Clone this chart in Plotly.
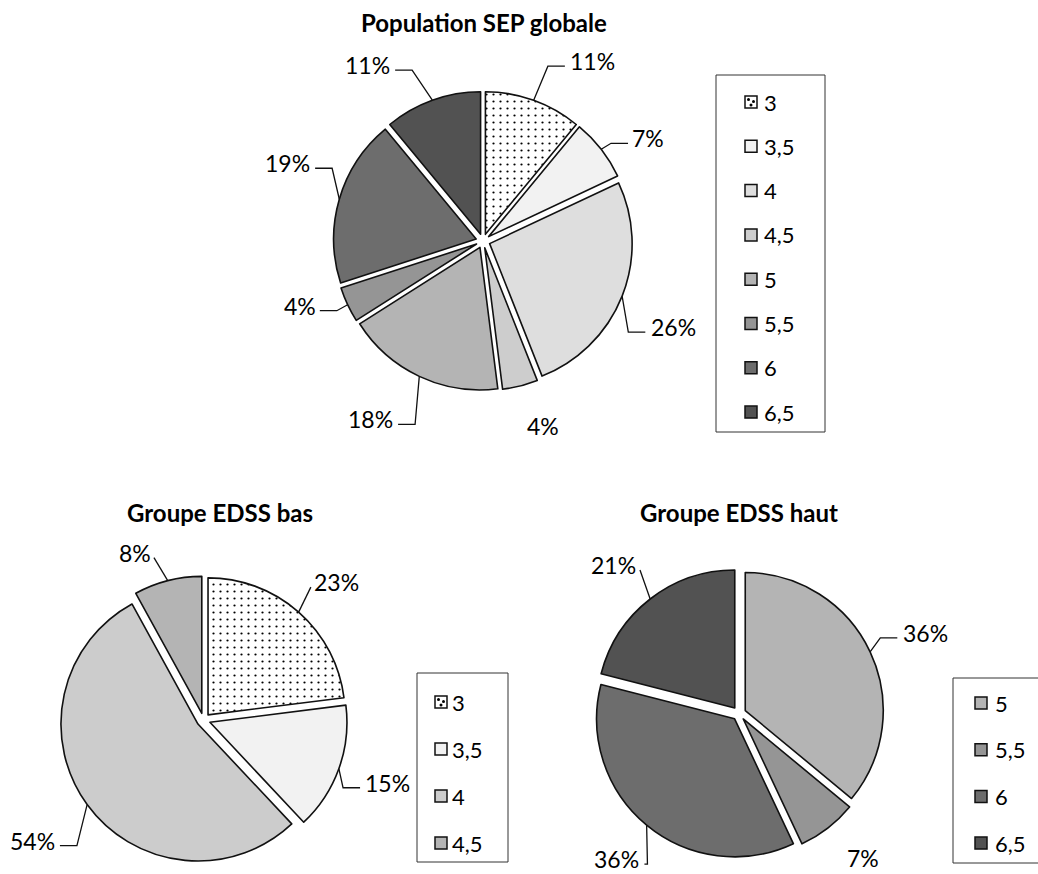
import math
import plotly.graph_objects as go

W, H = 1038, 874

# EDSS levels and their share (%) in each population
global_levels = ["3", "3,5", "4", "4,5", "5", "5,5", "6", "6,5"]
global_pct = [11, 7, 26, 4, 18, 4, 19, 11]

low_levels = ["3", "3,5", "4", "4,5"]
low_pct = [23, 15, 54, 8]

high_levels = ["5", "5,5", "6", "6,5"]
high_pct = [36, 7, 36, 21]

global_colors = ["#ffffff", "#f2f2f2", "#dedede", "#cdcdcd",
                 "#b4b4b4", "#959595", "#6d6d6d", "#525252"]
low_colors = ["#ffffff", "#f2f2f2", "#cccccc", "#b4b4b4"]
high_colors = ["#b4b4b4", "#959595", "#6d6d6d", "#525252"]

PULL = 0.05
FONT = "Lato"
LABEL_SIZE = 23
LEGEND_SIZE = 22
TITLE_SIZE = 24
INK = "#111111"

# Pie panels: pixel centre, radius, title, legend box and label placement.
# Label placement per slice: (dx, dy) of the text from the slice's outer
# mid-arc point, leader kind ('right', 'left', 'straight', None), elbow length.
panels = [
    dict(levels=global_levels, pct=global_pct, colors=global_colors,
         cx=483, cy=241, r=142.5,
         title="Population SEP globale", title_xy=(484, 22),
         legend=dict(box=(716, 75, 825, 432), y0=102, step=44.3, sq=745, tx=762),
         labels=[(59, -39, "right", 17), (47, -11, "right", 17),
                 (51, 31, "right", 17), (23, 40, None, 0),
                 (-49, 43, "left", 17), (-48, 1, "left", 17),
                 (-52, -36, "left", 17), (-65, -35, "left", 17)]),
    dict(levels=low_levels, pct=low_pct, colors=low_colors,
         cx=203.5, cy=720, r=137,
         title="Groupe EDSS bas", title_xy=(220, 512),
         legend=dict(box=(417, 673, 508, 862), y0=702, step=47, sq=435, tx=450),
         labels=[(38, -30, "straight", 0), (49, 14, "right", 17),
                 (-55, 36, "left", 17), (-33, -28, "straight", 0)]),
    dict(levels=high_levels, pct=high_pct, colors=high_colors,
         cx=739, cy=713.5, r=138,
         title="Groupe EDSS haut", title_xy=(739, 512),
         legend=dict(box=(953, 678, 1050, 863), y0=703, step=46.7, sq=975, tx=993),
         labels=[(55, -19, "right", 17), (35, 30, None, 0),
                 (-30, 34, "left", 3), (-37, -34, "straight", 0)]),
]


def pie_domain(cx, cy, r):
    half = r * (1 + PULL)
    return dict(x=[(cx - half) / W, (cx + half) / W],
                y=[(H - cy - half) / H, (H - cy + half) / H])


def mid_arc_point(p, i):
    total = sum(p["pct"])
    start = sum(p["pct"][:i])
    ang = math.radians((start + p["pct"][i] / 2) / total * 360)
    sx, sy = math.sin(ang), -math.cos(ang)
    ox = p["cx"] + PULL * p["r"] * sx
    oy = p["cy"] + PULL * p["r"] * sy
    return ox + p["r"] * sx, oy + p["r"] * sy


fig = go.Figure()
annotations = []
shapes = []
lead_x, lead_y = [], []
dot_x, dot_y = [], []

for p in panels:
    n = len(p["levels"])
    shapes_pattern = ["." if lv == "3" else "" for lv in p["levels"]]
    fig.add_trace(go.Pie(
        labels=p["levels"], values=p["pct"], sort=False,
        direction="clockwise", rotation=0, pull=[PULL] * n,
        textinfo="none", hoverinfo="label+percent", showlegend=False,
        domain=pie_domain(p["cx"], p["cy"], p["r"]),
        marker=dict(colors=p["colors"], line=dict(color=INK, width=1.6),
                    pattern=dict(shape=shapes_pattern, fgcolor="#000000",
                                 size=7, solidity=0.08)),
    ))

    # title
    tx, ty = p["title_xy"]
    annotations.append(dict(x=tx, y=ty, xref="x", yref="y", text=f"<b>{p['title']}</b>",
                            showarrow=False, font=dict(family=FONT, size=TITLE_SIZE, color="#000"),
                            xanchor="center", yanchor="middle"))

    # percentage labels with leader lines
    for i, v in enumerate(p["pct"]):
        ax, ay = mid_arc_point(p, i)
        dx, dy, kind, hlen = p["labels"][i]
        lx, ly = ax + dx, ay + dy
        text = f"{v}%"
        annotations.append(dict(x=lx, y=ly, xref="x", yref="y", text=text, showarrow=False,
                                font=dict(family=FONT, size=LABEL_SIZE, color="#000"),
                                xanchor="center", yanchor="middle"))
        hw = len(text) * 7.6
        if kind == "right":
            ex, ey = lx - hw - 5, ly + 5
            lead_x += [ax, ex - hlen, ex, None]
            lead_y += [ay, ey, ey, None]
        elif kind == "left":
            ex, ey = lx + hw + 5, ly + 5
            lead_x += [ax, ex + hlen, ex, None]
            lead_y += [ay, ey, ey, None]
        elif kind == "straight":
            ex = lx - hw - 3 if lx > ax else lx + hw + 4
            ey = ly + 5
            lead_x += [ax, ex, None]
            lead_y += [ay, ey, None]

    # legend box and entries
    lg = p["legend"]
    x0, y0, x1, y1 = lg["box"]
    shapes.append(dict(type="rect", xref="x", yref="y", x0=x0, y0=y0, x1=x1, y1=y1,
                       line=dict(color="#333333", width=1), fillcolor="white", layer="below"))
    for i, (lv, col) in enumerate(zip(p["levels"], p["colors"])):
        yc = lg["y0"] + i * lg["step"]
        s = 12
        shapes.append(dict(type="rect", xref="x", yref="y", x0=lg["sq"], x1=lg["sq"] + s,
                           y0=yc - s / 2, y1=yc + s / 2, fillcolor=col,
                           line=dict(color=INK, width=1.5), layer="below"))
        if lv == "3":
            dot_x += [lg["sq"] + 3.5, lg["sq"] + 8.5, lg["sq"] + 6]
            dot_y += [yc - 2.5, yc - 0.5, yc + 3]
        annotations.append(dict(x=lg["tx"], y=yc, xref="x", yref="y", text=lv, showarrow=False,
                                font=dict(family=FONT, size=LEGEND_SIZE, color="#000"),
                                xanchor="left", yanchor="middle"))

fig.add_trace(go.Scatter(x=lead_x, y=lead_y, mode="lines", hoverinfo="skip",
                         line=dict(color=INK, width=1.3), showlegend=False))
fig.add_trace(go.Scatter(x=dot_x, y=dot_y, mode="markers", hoverinfo="skip",
                         marker=dict(color="#000", size=3), showlegend=False))

fig.update_layout(
    width=W, height=H, autosize=False,
    margin=dict(l=0, r=0, t=0, b=0),
    paper_bgcolor="white", plot_bgcolor="white",
    xaxis=dict(range=[0, W], visible=False, fixedrange=True, domain=[0, 1]),
    yaxis=dict(range=[H, 0], visible=False, fixedrange=True, domain=[0, 1]),
    annotations=annotations, shapes=shapes,
    showlegend=False,
)

fig.write_html("out.html")
